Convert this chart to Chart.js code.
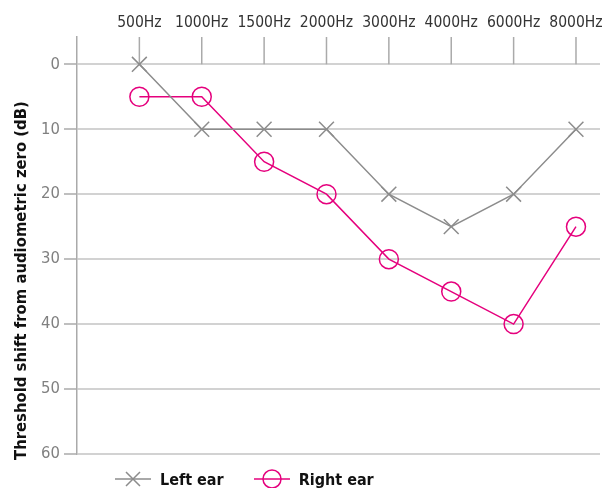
<!DOCTYPE html>
<html>
<head>
<meta charset="utf-8">
<script src="https://cdn.jsdelivr.net/npm/chart.js@4"></script>
<style>
  html, body { margin: 0; padding: 0; background: #fff; }
  #wrap { position: relative; width: 616px; height: 488px; }
  #legend {
    position: absolute; left: 115px; top: 468px; display: flex; align-items: center;
    font-family: "DejaVu Sans Condensed", sans-serif;
    font-weight: bold; font-size: 16px; color: #111;
  }
  .item { display: flex; align-items: center; margin-right: 30px; }
  .item svg { margin-right: 9px; }
</style>
</head>
<body>
<div id="wrap">
  <canvas id="audiogram" width="616" height="488"></canvas>
  <div id="legend">
    <div class="item">
      <svg width="36" height="20"><line x1="0" y1="10" x2="36" y2="10" stroke="#8c8c8c" stroke-width="1.5"/>
        <path d="M11 3 L25 17 M25 3 L11 17" stroke="#8c8c8c" stroke-width="1.5"/></svg>
      <span>Left ear</span>
    </div>
    <div class="item">
      <svg width="36" height="22"><line x1="0" y1="11" x2="36" y2="11" stroke="#e5007d" stroke-width="1.5"/>
        <circle cx="18" cy="11" r="9" fill="none" stroke="#e5007d" stroke-width="1.5"/></svg>
      <span>Right ear</span>
    </div>
  </div>
</div>
<script>
// audiogram: hearing threshold per frequency, both ears

const frequencies = ['500Hz', '1000Hz', '1500Hz', '2000Hz', '3000Hz', '4000Hz', '6000Hz', '8000Hz']
const leftEar = [0, 10, 10, 10, 20, 25, 20, 10]
const rightEar = [5, 5, 15, 20, 30, 35, 40, 25]
const dbTicks = [0, 10, 20, 30, 40, 50, 60]
const yTitle = 'Threshold shift from audiometric zero (dB)'

const GREY = '#8c8c8c'
const PINK = '#e5007d'
const FONT = '"DejaVu Sans Condensed", sans-serif'

const toPoints = (arr) => arr.map((v, i) => ({ x: i, y: v }))

// short vertical lines above 0 dB, one per frequency
const freqLines = {
  id: 'freqLines',
  beforeDatasetsDraw(chart) {
    const { ctx, chartArea, scales } = chart
    const y0 = scales.y.getPixelForValue(0)
    ctx.save()
    ctx.strokeStyle = '#aaaaaa'
    ctx.lineWidth = 1.5
    frequencies.forEach((f, i) => {
      const x = scales.x.getPixelForValue(i)
      ctx.beginPath()
      ctx.moveTo(x, chartArea.top)
      ctx.lineTo(x, y0)
      ctx.stroke()
    })
    ctx.restore()
  }
}

// y title sits a bit lower than chart.js would center it
const sideTitle = {
  id: 'sideTitle',
  afterDraw(chart) {
    const { ctx, chartArea } = chart
    ctx.save()
    ctx.translate(22, chartArea.bottom + 6)
    ctx.rotate(-Math.PI / 2)
    ctx.font = 'bold 16.5px ' + FONT
    ctx.fillStyle = '#111'
    ctx.textAlign = 'left'
    ctx.textBaseline = 'middle'
    ctx.fillText(yTitle, 0, 0)
    ctx.restore()
  }
}

new Chart(document.getElementById('audiogram'), {
  type: 'line',
  data: {
    datasets: [
      {
        label: 'Left ear',
        data: toPoints(leftEar),
        borderColor: GREY,
        borderWidth: 1.5,
        pointStyle: 'crossRot',
        pointRadius: 10.5,
        pointBorderColor: GREY,
        pointBorderWidth: 1.5,
        tension: 0
      },
      {
        label: 'Right ear',
        data: toPoints(rightEar),
        borderColor: PINK,
        borderWidth: 1.5,
        pointStyle: 'circle',
        pointRadius: 9.5,
        pointBorderColor: PINK,
        pointBackgroundColor: 'rgba(0,0,0,0)',
        pointBorderWidth: 1.5,
        tension: 0
      }
    ]
  },
  options: {
    responsive: false,
    animation: false,
    layout: { padding: { top: 0, right: 16, bottom: 34, left: 0 } },
    scales: {
      x: {
        type: 'linear',
        position: 'top',
        min: -1,
        max: 7.385,
        afterBuildTicks: (scale) => { scale.ticks = frequencies.map((f, i) => ({ value: i })) },
        afterFit: (scale) => { scale.height = 37 },
        ticks: {
          callback: (v) => frequencies[v] || '',
          color: '#333',
          font: { family: FONT, size: 15.5 },
          padding: -3,
          maxRotation: 0,
          autoSkip: false
        },
        grid: { display: false },
        border: { display: false }
      },
      y: {
        reverse: true,
        min: -4.2,
        max: 60,
        afterBuildTicks: (scale) => { scale.ticks = dbTicks.map(v => ({ value: v })) },
        afterFit: (scale) => { scale.width = 77 },
        ticks: {
          color: '#808080',
          font: { family: FONT, size: 16.5 },
          padding: 4
        },
        grid: {
          color: '#d2d2d2',
          lineWidth: 2,
          tickLength: 13,
          tickColor: '#aaaaaa',
          tickWidth: 1.5
        },
        border: { display: true, color: '#aaaaaa', width: 1.5 }
      }
    },
    plugins: {
      legend: { display: false },
      tooltip: { enabled: false }
    }
  },
  plugins: [freqLines, sideTitle]
})
</script>
</body>
</html>
